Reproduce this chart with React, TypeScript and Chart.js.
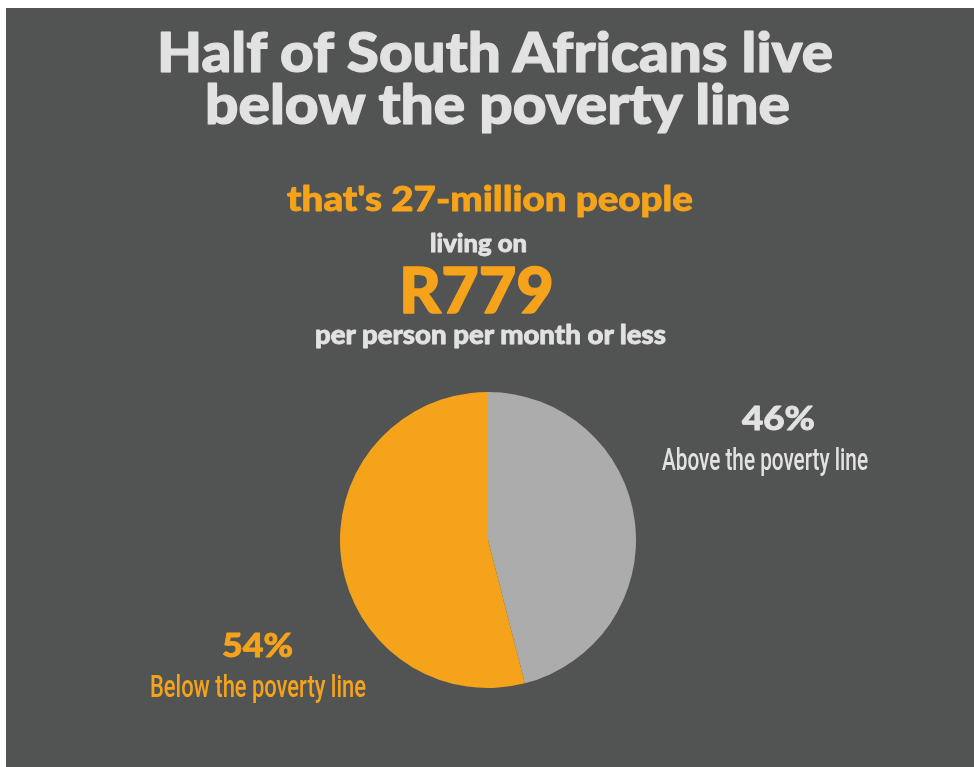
import React, { useEffect, useRef } from "react";
import { Chart, registerables } from "chart.js";

Chart.register(...registerables);

const categories = ["Above the poverty line", "Below the poverty line"];
const shares = [46, 54];
const sliceColors = ["#acacac", "#f6a31c"];
const titleLines = ["Half of South Africans live", "below the poverty line"];
const headline = "that's 27-million people";
const livingOn = "living on";
const amount = "R779";
const perPerson = "per person per month or less";

const BG = "#525453";
const ORANGE = "#f6a31c";
const LIGHT = "#e2e2e2";

type TextSpec = {
  text: string;
  x: number;
  y: number;
  w: number;
  size: number;
  color: string;
  heavy: boolean;
  sx: number;
};

export default function App() {
  const canvasRef = useRef<HTMLCanvasElement | null>(null);

  useEffect(() => {
    document.body.style.margin = "0";
    const ctx = canvasRef.current;
    if (!ctx) return;
    const chart = new Chart(ctx, {
      type: "pie",
      data: {
        labels: categories,
        datasets: [
          {
            data: shares,
            backgroundColor: sliceColors,
            borderWidth: 0,
          },
        ],
      },
      options: {
        responsive: false,
        animation: false,
        layout: { padding: 0 },
        plugins: {
          legend: { display: false },
          tooltip: { enabled: false },
          title: { display: false },
        },
      },
    });
    return () => chart.destroy();
  }, []);

  const heavyFont = "Lato, 'DejaVu Sans', sans-serif";
  const narrowFont = "Roboto, 'Liberation Sans', sans-serif";

  const texts: TextSpec[] = [
    { text: titleLines[0], x: 157, y: 72, w: 676, size: 55, color: LIGHT, heavy: true, sx: 1 },
    { text: titleLines[1], x: 205, y: 124, w: 585, size: 55, color: LIGHT, heavy: true, sx: 1 },
    { text: headline, x: 287, y: 211, w: 406, size: 35, color: ORANGE, heavy: true, sx: 1 },
    { text: livingOn, x: 430, y: 252, w: 97, size: 25, color: LIGHT, heavy: true, sx: 1 },
    { text: amount, x: 399, y: 313, w: 155, size: 62, color: ORANGE, heavy: true, sx: 1 },
    { text: perPerson, x: 315, y: 344, w: 351, size: 27, color: LIGHT, heavy: true, sx: 1 },
    { text: `${shares[0]}%`, x: 742, y: 430, w: 73, size: 33, color: LIGHT, heavy: true, sx: 1 },
    { text: categories[0], x: 662, y: 470, w: 206, size: 32, color: LIGHT, heavy: false, sx: 0.7 },
    { text: `${shares[1]}%`, x: 222, y: 657, w: 71, size: 33, color: ORANGE, heavy: true, sx: 1 },
    { text: categories[1], x: 150, y: 697, w: 216, size: 32, color: ORANGE, heavy: false, sx: 0.7 },
  ];

  return (
    <div style={{ position: "fixed", left: 0, top: 0, width: 974, height: 767, background: "#fff", overflow: "hidden" }}>
      <div style={{ position: "absolute", left: 6, top: 8, right: 0, bottom: 0, background: BG }} />
      <canvas
        ref={canvasRef}
        width={296}
        height={296}
        style={{ position: "absolute", left: 340, top: 392, width: 296, height: 296 }}
      />
      <svg
        width={974}
        height={767}
        viewBox="0 0 974 767"
        style={{ position: "absolute", left: 0, top: 0, pointerEvents: "none" }}
      >
        {texts.map((t) => (
          <g key={t.text} transform={`translate(${t.x},${t.y}) scale(${t.sx},1)`}>
            <text
              x={0}
              y={0}
              textLength={t.w / t.sx}
              lengthAdjust="spacingAndGlyphs"
              fill={t.color}
              stroke={t.heavy ? t.color : "none"}
              strokeWidth={t.heavy ? Math.max(0.8, t.size / 45) : 0}
              strokeLinejoin="round"
              style={{
                fontFamily: t.heavy ? heavyFont : narrowFont,
                fontWeight: t.heavy ? 900 : 500,
                fontSize: t.size,
              }}
            >
              {t.text}
            </text>
          </g>
        ))}
      </svg>
    </div>
  );
}
